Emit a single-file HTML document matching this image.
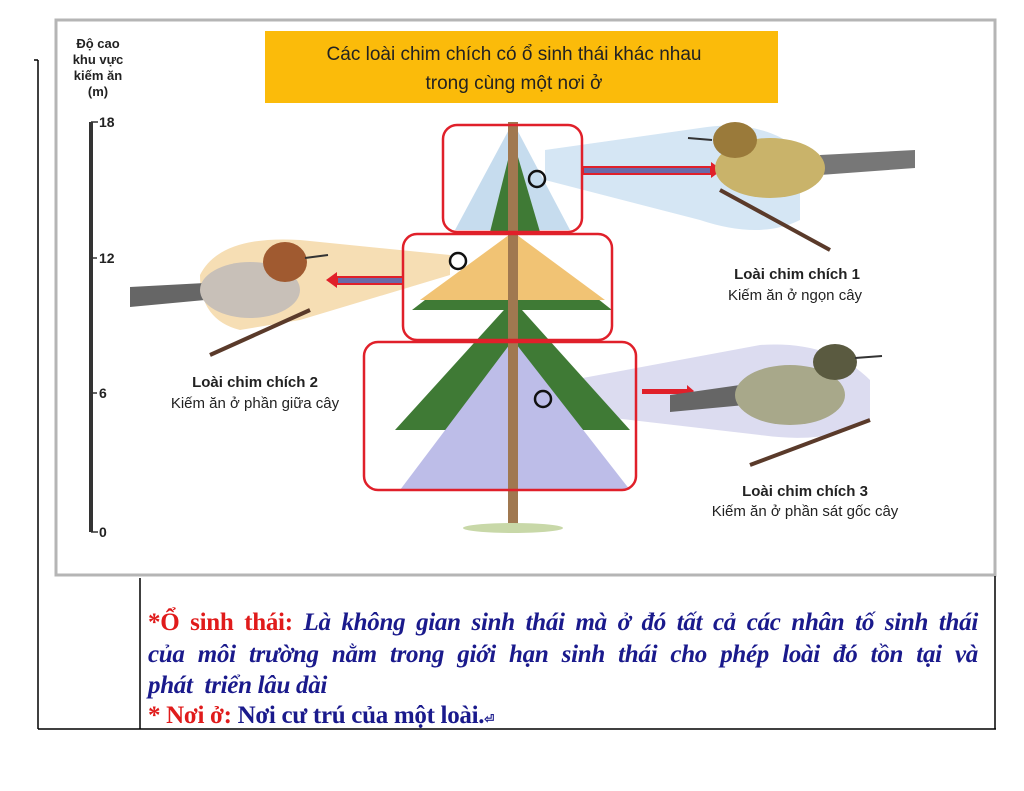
<!DOCTYPE html>
<html><head><meta charset="utf-8"><style>
body{margin:0;background:#fff;width:1024px;height:791px;overflow:hidden;position:relative;font-family:"Liberation Sans",sans-serif}
.t{position:absolute;left:148px;font-family:"Liberation Serif",serif;font-weight:bold;font-size:25px;line-height:30px;color:#1a1a8c;white-space:nowrap;font-style:italic;letter-spacing:-0.3px}
.j{width:830px;text-align:justify;text-align-last:justify}
.r{color:#e01b1b;font-style:normal}
</style></head><body>
<svg width="1024" height="791" style="position:absolute;left:0;top:0">
<rect x="56" y="20" width="939" height="555" fill="#fff" stroke="#b5b5b5" stroke-width="3"/>
<line x1="38" y1="60" x2="38" y2="729" stroke="#000" stroke-width="1.5"/>
<line x1="34" y1="60" x2="38" y2="60" stroke="#000" stroke-width="1.5"/>
<line x1="38" y1="729" x2="996" y2="729" stroke="#000" stroke-width="1.5"/>
<line x1="140" y1="578" x2="140" y2="729" stroke="#000" stroke-width="1.5"/>
<line x1="995" y1="576" x2="995" y2="729" stroke="#000" stroke-width="1.5"/>
<rect x="265" y="31" width="513" height="72" fill="#fbbb0a"/>
<text x="514" y="60" font-size="19" text-anchor="middle" fill="#222">Các loài chim chích có ổ sinh thái khác nhau</text>
<text x="514" y="89" font-size="19" text-anchor="middle" fill="#222">trong cùng một nơi ở</text>
<g font-size="13" font-weight="bold" fill="#222" text-anchor="middle">
<text x="98" y="48">Độ cao</text><text x="98" y="64">khu vực</text><text x="98" y="80">kiếm ăn</text><text x="98" y="96">(m)</text></g>
<rect x="89" y="122" width="4" height="410" fill="#333"/>
<g stroke="#333" stroke-width="1.5"><line x1="91" y1="122" x2="98" y2="122"/><line x1="91" y1="258" x2="97" y2="258"/><line x1="91" y1="393" x2="97" y2="393"/><line x1="91" y1="532" x2="98" y2="532"/></g>
<g font-size="14" font-weight="bold" fill="#222"><text x="99" y="127">18</text><text x="99" y="263">12</text><text x="99" y="398">6</text><text x="99" y="537">0</text></g>
<path d="M545 150 L700 128 Q760 118 800 150 L800 220 Q760 240 700 220 L545 180Z" fill="#d5e6f4"/>
<path d="M450 255 L300 240 Q220 235 200 275 Q200 320 240 330 L300 320 L450 275Z" fill="#f6deb4"/>
<path d="M545 385 L760 345 Q830 340 870 380 L870 420 Q830 445 760 435 L545 410Z" fill="#dcdcf0"/>
<polygon points="513,122 455,230 570,230" fill="#c6dcee"/>
<polygon points="513,140 490,232 540,232" fill="#3f7a35"/>
<polygon points="513,232 412,310 612,310" fill="#3f7a35"/>
<polygon points="513,232 420,300 605,300" fill="#f1c374"/>
<polygon points="513,300 395,430 630,430" fill="#3f7a35"/>
<polygon points="513,340 400,490 630,490" fill="#bdbde8"/>
<rect x="508" y="122" width="10" height="410" fill="#a07850"/>
<ellipse cx="513" cy="528" rx="50" ry="5" fill="#c8d8a8"/>
<g fill="none" stroke="#e0202a" stroke-width="2.5">
<rect x="443" y="125" width="139" height="107" rx="14"/>
<rect x="403" y="234" width="209" height="106" rx="14"/>
<rect x="364" y="342" width="272" height="148" rx="14"/>
</g>
<g fill="none" stroke="#111" stroke-width="2.5"><circle cx="537" cy="179" r="8"/><circle cx="458" cy="261" r="8"/><circle cx="543" cy="399" r="8"/></g>
<rect x="583" y="167" width="128" height="7" fill="#6a6aa8" stroke="#e0202a" stroke-width="2"/>
<polygon points="711,162 722,170 711,178" fill="#e0202a"/>
<rect x="337" y="277" width="66" height="7" fill="#6a6aa8" stroke="#e0202a" stroke-width="2"/>
<polygon points="337,272 326,280 337,288" fill="#e0202a"/>
<rect x="642" y="389" width="45" height="5" fill="#e0202a"/>
<polygon points="687,385 694,391 687,397" fill="#e0202a"/>
<g>
<line x1="720" y1="190" x2="830" y2="250" stroke="#5a3a2a" stroke-width="4"/>
<polygon points="820,155 915,150 915,168 820,175" fill="#777"/>
<ellipse cx="770" cy="168" rx="55" ry="30" fill="#c9b36a"/>
<ellipse cx="735" cy="140" rx="22" ry="18" fill="#9a7a3a"/>
<line x1="688" y1="138" x2="712" y2="140" stroke="#333" stroke-width="2"/>
</g>
<g>
<line x1="210" y1="355" x2="310" y2="310" stroke="#5a3a2a" stroke-width="4"/>
<polygon points="130,287 205,283 205,300 130,307" fill="#666"/>
<ellipse cx="250" cy="290" rx="50" ry="28" fill="#c8c0b8"/>
<ellipse cx="285" cy="262" rx="22" ry="20" fill="#a05a30"/>
<line x1="305" y1="258" x2="328" y2="255" stroke="#333" stroke-width="2"/>
</g>
<g>
<line x1="750" y1="465" x2="870" y2="420" stroke="#5a3a2a" stroke-width="4"/>
<polygon points="670,395 740,385 745,405 670,412" fill="#666"/>
<ellipse cx="790" cy="395" rx="55" ry="30" fill="#a8a88a"/>
<ellipse cx="835" cy="362" rx="22" ry="18" fill="#5a5a40"/>
<line x1="855" y1="358" x2="882" y2="356" stroke="#333" stroke-width="2"/>
</g>
<g fill="#222" text-anchor="middle">
<text x="797" y="279" font-size="15" font-weight="bold">Loài chim chích 1</text>
<text x="795" y="300" font-size="15">Kiếm ăn ở ngọn cây</text>
<text x="255" y="387" font-size="15" font-weight="bold">Loài chim chích 2</text>
<text x="255" y="408" font-size="15">Kiếm ăn ở phần giữa cây</text>
<text x="805" y="496" font-size="15" font-weight="bold">Loài chim chích 3</text>
<text x="805" y="516" font-size="15">Kiếm ăn ở phần sát gốc cây</text>
</g>
</svg>
<div class="t j" style="top:608px"><span class="r">*Ổ sinh thái:</span> Là không gian sinh thái mà ở đó tất cả các nhân tố sinh thái</div>
<div class="t j" style="top:640px">của môi trường nằm trong giới hạn sinh thái cho phép loài đó tồn tại và</div>
<div class="t" style="top:671px">phát&nbsp; triển lâu dài</div>
<div class="t" style="top:701px;font-style:normal"><span class="r">* Nơi ở:</span> Nơi cư trú của một loài.<span style="font-size:12px">⏎</span></div>
</body></html>
